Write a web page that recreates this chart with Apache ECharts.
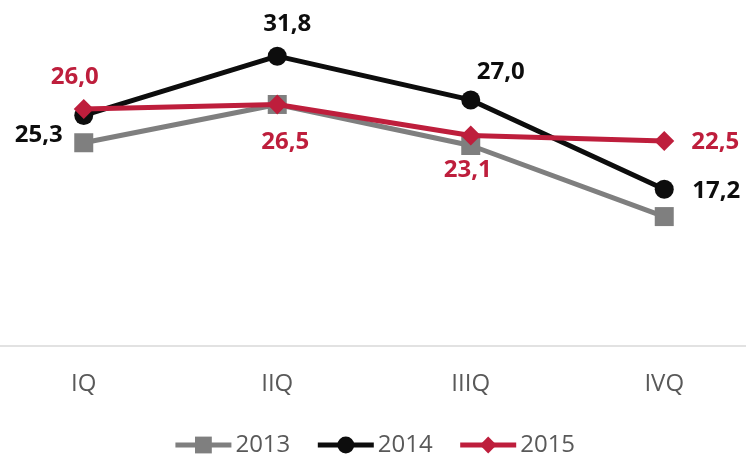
<!DOCTYPE html>
<html>
<head>
<meta charset="utf-8">
<script src="https://cdn.jsdelivr.net/npm/echarts@6/dist/echarts.min.js"></script>
<style>html,body{margin:0;padding:0;background:#fff;overflow:hidden;width:746px;height:455px;}#c{position:absolute;left:-13px;top:0;width:774px;height:455px;}</style>
</head>
<body>
<div id="c"></div>
<script>
var categories = ['IQ', 'IIQ', 'IIIQ', 'IVQ'];
var seriesNames = ['2013', '2014', '2015'];
var values2013 = [22.3, 26.5, 22.0, 14.2];
var values2014 = [25.3, 31.8, 27.0, 17.2];
var values2015 = [26.0, 26.5, 23.1, 22.5];
var labelOffsets2014 = [[-45, 20], [10, -32], [30, -28], [52, 2]];
var labelOffsets2015 = [[-9, -32], [8, 38], [-3, 35], [51, 1]];

var FONT = '"Open Sans", "Liberation Sans", sans-serif';
function fmt(v) { return v.toFixed(1).replace('.', ','); }
function labeled(vals, offs, color) {
  return vals.map(function (v, i) {
    return {
      value: v,
      label: {
        show: true, position: 'inside', offset: offs[i],
        formatter: function (p) { return fmt(p.value); },
        color: color, fontFamily: FONT, fontWeight: 'bold', fontSize: 24
      }
    };
  });
}
var chart = echarts.init(document.getElementById('c'), null, { renderer: 'canvas' });
chart.setOption({
  animation: false,
  backgroundColor: '#ffffff',
  grid: { left: 0, right: 0, top: 27, bottom: 109, containLabel: false },
  xAxis: {
    type: 'category', data: categories, boundaryGap: true,
    axisLine: { show: true, lineStyle: { color: '#d9d9d9', width: 1.5 } },
    axisTick: { show: false },
    axisLabel: { color: '#595959', fontFamily: FONT, fontSize: 24, margin: 26 }
  },
  yAxis: { type: 'value', min: 0, max: 35, show: false, splitLine: { show: false } },
  legend: {
    data: seriesNames, top: 428, left: 'center',
    itemWidth: 56, itemHeight: 21, itemGap: 25,
    lineStyle: { width: 5 },
    textStyle: { color: '#595959', fontFamily: FONT, fontSize: 24, padding: [0, 0, 0, -1] }
  },
  series: [
    { name: '2013', type: 'line', data: values2013, symbol: 'rect', symbolSize: 19,
      itemStyle: { color: '#7f7f7f' }, lineStyle: { color: '#7f7f7f', width: 5 }, z: 2 },
    { name: '2014', type: 'line', data: labeled(values2014, labelOffsets2014, '#0d0d0d'), symbol: 'circle', symbolSize: 19,
      itemStyle: { color: '#0d0d0d' }, lineStyle: { color: '#0d0d0d', width: 5 }, z: 3 },
    { name: '2015', type: 'line', data: labeled(values2015, labelOffsets2015, '#be1e3c'), symbol: 'diamond', symbolSize: 20,
      itemStyle: { color: '#be1e3c' }, lineStyle: { color: '#be1e3c', width: 5 }, z: 4 }
  ]
});
</script>
</body>
</html>
